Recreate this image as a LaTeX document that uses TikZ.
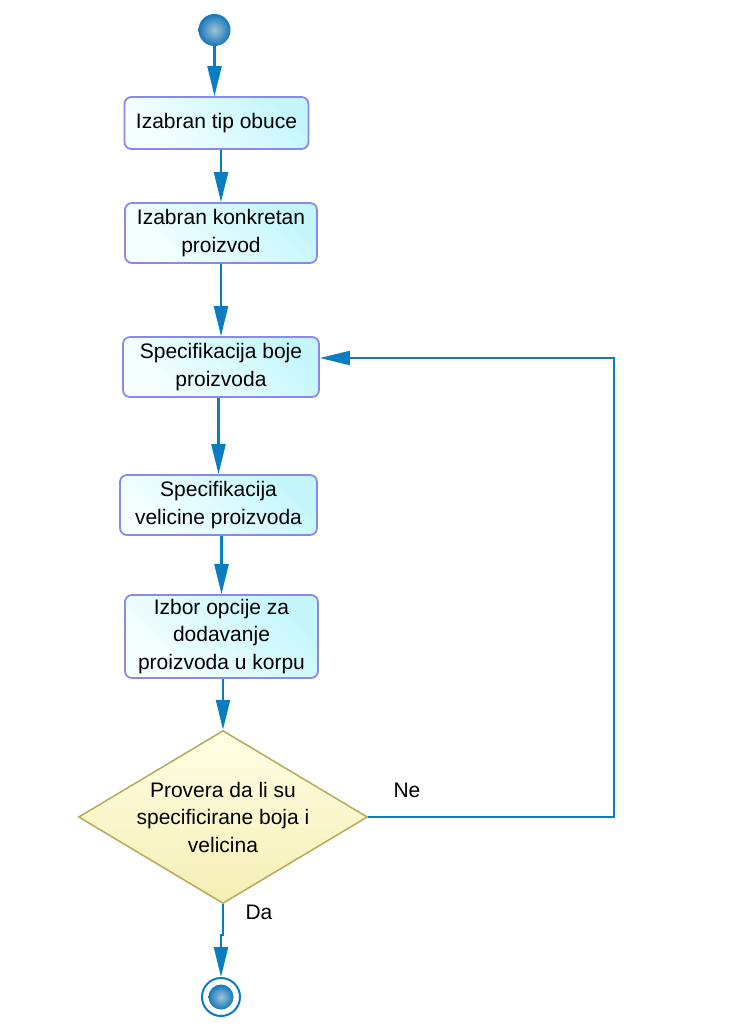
\documentclass[tikz,border=0pt]{standalone}
\usepackage{fontspec}
\setmainfont{Liberation Sans}
\usetikzlibrary{arrows.meta,shapes.geometric,calc}
\definecolor{conn}{RGB}{10,124,194}
\definecolor{boxline}{RGB}{136,136,240}
\definecolor{boxA}{RGB}{246,255,255}
\definecolor{boxB}{RGB}{196,246,252}
\definecolor{dline}{RGB}{180,170,90}
\definecolor{dA}{RGB}{255,255,228}
\definecolor{dB}{RGB}{244,238,180}
\definecolor{ballin}{RGB}{160,196,214}
\definecolor{ballout}{RGB}{22,118,186}
\tikzset{
  actbox/.style={draw=boxline, line width=1.8pt, rounded corners=7pt,
    left color=boxA, right color=boxB, shading angle=135,
    align=center, inner sep=2pt, font=\fontsize{21}{27.5}\selectfont},
  flow/.style={draw=conn, line width=2.3pt,
    -{Triangle[length=30pt,width=14pt]}},
  lbl/.style={font=\fontsize{21}{27.5}\selectfont, align=center, inner sep=0pt},
  startball/.style={circle, inner sep=0pt, minimum size=32pt,
    inner color=ballin, outer color=ballout},
}
\begin{document}
\begin{tikzpicture}[x=1pt,y=-1pt]
\useasboundingbox (0,0) rectangle (738,1036);
% start
\node[startball] (start) at (214.5,30) {};
% boxes
\node[actbox, minimum width=184pt, minimum height=52pt] (b1) at (216.5,123) {Izabran tip obuce};
\node[actbox, minimum width=192pt, minimum height=60pt] (b2) at (221,233) {Izabran konkretan\\proizvod};
\node[actbox, minimum width=196pt, minimum height=60pt] (b3) at (221,367) {Specifikacija boje\\proizvoda};
\node[actbox, minimum width=197pt, minimum height=60pt] (b4) at (218.5,505) {Specifikacija\\velicine proizvoda};
\node[actbox, minimum width=193pt, minimum height=83pt] (b5) at (221.5,636.5) {Izbor opcije za\\dodavanje\\proizvoda u korpu};
% decision
\node[diamond, draw=dline, line width=1.5pt, top color=dA, bottom color=dB,
      minimum width=289pt, minimum height=173pt, inner sep=0pt] (d) at (223,817) {};
\node[lbl] (dtext) at (223,817) {Provera da li su\\specificirane boja i\\velicina};
% end
\node[circle, draw=conn, line width=2pt, fill=white, inner sep=0pt, minimum size=38pt] (end) at (221,997) {};
\node[circle, inner sep=0pt, minimum size=25pt, inner color=ballin, outer color=ballout] (endin) at (end.center) {};
% labels
\node[lbl] (ne) at (407,790) {Ne};
\node[lbl] (da) at (259,912) {Da};
% connectors
\draw[flow] (start.south) -- (start.south |- b1.north);
\draw[flow] (b2.north |- b1.south) -- (b2.north);
\draw[flow] (b2.south) -- (b3.north);
\draw[flow] (b4.north |- b3.south) -- (b4.north);
\draw[flow] (b5.north |- b4.south) -- (b5.north);
\draw[flow] (d.north |- b5.south) -- (d.north);
\coordinate (jog) at (223,935);
\draw[flow] (d.south) -- (jog) -- (end.north |- jog) -- (end.north);
\coordinate (corner) at (614,358);
\draw[flow] (d.east) -| (corner) -- (b3.east |- corner);
\end{tikzpicture}
\end{document}
